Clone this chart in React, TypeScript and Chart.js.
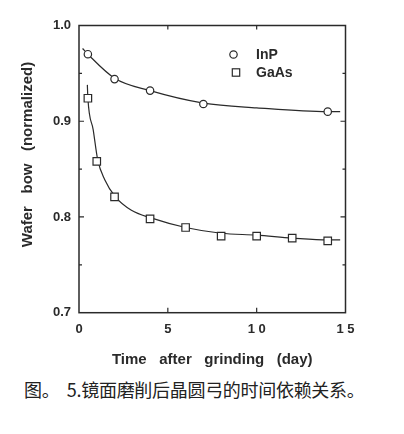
import { useEffect, useRef } from "react";
import { Chart, registerables } from "chart.js";

Chart.register(...registerables);

// measured points
const inpDays = [0.5, 2, 4, 7, 14];
const inpBow = [0.97, 0.944, 0.932, 0.918, 0.91];
const gaasDays = [0.5, 1, 2, 4, 6, 8, 10, 12, 14];
const gaasBow = [0.924, 0.858, 0.821, 0.798, 0.789, 0.78, 0.78, 0.778, 0.775];

// fitted curves
const inpFitDays = [0.2, 0.5, 2, 4, 7, 10, 14, 14.7];
const inpFitBow = [0.976, 0.97, 0.945, 0.932, 0.919, 0.914, 0.91, 0.91];
const gaasFitDays = [0.47, 0.5, 0.8, 1.05, 1.45, 2.05, 2.95, 4.05, 6, 8, 10, 12, 14, 14.7];
const gaasFitBow = [0.938, 0.924, 0.891, 0.86, 0.839, 0.821, 0.807, 0.799, 0.789, 0.783, 0.781, 0.778, 0.776, 0.776];

const xTickLabels = ["0", "5", "1 0", "1 5"];
const seriesNames = ["InP", "GaAs"];
const caption = "图。  5.镜面磨削后晶圆弓的时间依赖关系。";

const ink = "#2a2a2a";
const FONT = "'Liberation Sans', Arial, sans-serif";

const toPoints = (xs: number[], ys: number[]) => xs.map((x, i) => ({ x, y: ys[i] }));

// frame + inward ticks on all four sides
const framePlugin = {
  id: "frame",
  afterDatasetsDraw(chart: any) {
    const { ctx, chartArea: a, scales } = chart;
    ctx.save();
    ctx.strokeStyle = ink;
    ctx.lineWidth = 1.5;
    ctx.strokeRect(a.left, a.top, a.right - a.left, a.bottom - a.top);
    ctx.lineWidth = 1.2;
    ctx.beginPath();
    scales.y.ticks.forEach((t: any) => {
      if (t.value <= 0.701 || t.value >= 0.999) return;
      const py = scales.y.getPixelForValue(t.value);
      const len = t.label ? 5 : 3;
      ctx.moveTo(a.left, py);
      ctx.lineTo(a.left + len, py);
      ctx.moveTo(a.right, py);
      ctx.lineTo(a.right - len, py);
    });
    scales.x.ticks.forEach((t: any) => {
      if (t.value <= 0 || t.value >= 15) return;
      const px = scales.x.getPixelForValue(t.value);
      ctx.moveTo(px, a.bottom);
      ctx.lineTo(px, a.bottom - 5);
      ctx.moveTo(px, a.top);
      ctx.lineTo(px, a.top + 4);
    });
    ctx.stroke();
    ctx.restore();
  },
};

const legendPlugin = {
  id: "innerLegend",
  afterDraw(chart: any) {
    const { ctx } = chart;
    ctx.save();
    ctx.strokeStyle = ink;
    ctx.fillStyle = "#fff";
    ctx.lineWidth = 1.2;
    ctx.beginPath();
    ctx.arc(233.5, 54.5, 3.7, 0, Math.PI * 2);
    ctx.fill();
    ctx.stroke();
    ctx.fillRect(232.3, 68.8, 7.4, 7.4);
    ctx.strokeRect(232.3, 68.8, 7.4, 7.4);
    ctx.fillStyle = ink;
    ctx.font = `bold 14px ${FONT}`;
    ctx.textBaseline = "middle";
    ctx.fillText(seriesNames[0], 256, 55);
    ctx.fillText(seriesNames[1], 256, 73);
    ctx.restore();
  },
};

export default function App() {
  const canvasRef = useRef<HTMLCanvasElement | null>(null);
  const chartRef = useRef<Chart | null>(null);

  useEffect(() => {
    if (chartRef.current) chartRef.current.destroy();
    const ctx = canvasRef.current!.getContext("2d")!;

    chartRef.current = new Chart(ctx, {
      type: "scatter",
      data: {
        datasets: [
          {
            label: seriesNames[0],
            data: toPoints(inpDays, inpBow),
            pointStyle: "circle",
            pointRadius: 3.7,
            pointBorderWidth: 1.2,
            pointBorderColor: ink,
            pointBackgroundColor: "#fff",
            order: 0,
          },
          {
            label: seriesNames[1],
            data: toPoints(gaasDays, gaasBow),
            pointStyle: "rect",
            pointRadius: 5.3,
            pointBorderWidth: 1.2,
            pointBorderColor: ink,
            pointBackgroundColor: "#fff",
            order: 0,
          },
          {
            label: "InP fit",
            data: toPoints(inpFitDays, inpFitBow),
            showLine: true,
            pointRadius: 0,
            borderColor: ink,
            borderWidth: 1.2,
            cubicInterpolationMode: "monotone",
            order: 1,
          },
          {
            label: "GaAs fit",
            data: toPoints(gaasFitDays, gaasFitBow),
            showLine: true,
            pointRadius: 0,
            borderColor: ink,
            borderWidth: 1.2,
            cubicInterpolationMode: "monotone",
            order: 1,
          },
        ],
      },
      options: {
        animation: false,
        responsive: true,
        maintainAspectRatio: false,
        layout: { padding: { top: 25.5, right: 58.5, bottom: 0, left: 0 } },
        plugins: { legend: { display: false }, tooltip: { enabled: false } },
        scales: {
          x: {
            type: "linear",
            min: 0,
            max: 15,
            grid: { display: false, drawTicks: false },
            border: { display: false },
            ticks: {
              stepSize: 5,
              padding: 9,
              color: ink,
              font: { family: FONT, size: 13, weight: "bold" },
              callback: (_v: any, i: number) => xTickLabels[i],
            },
            title: {
              display: true,
              text: "Time   after   grinding   (day)",
              color: ink,
              font: { family: FONT, size: 15, weight: "bold" },
              padding: { top: 0, bottom: 3 },
            },
            afterFit: (s: any) => {
              s.height = 59.3;
            },
          },
          y: {
            min: 0.7,
            max: 1.0,
            grid: { display: false, drawTicks: false },
            border: { display: false },
            ticks: {
              stepSize: 0.05,
              padding: 8,
              color: ink,
              font: { family: FONT, size: 13, weight: "bold" },
              callback: (v: any) => {
                const r = Math.round(Number(v) * 100);
                return r % 10 === 0 ? (r / 100).toFixed(1) : "";
              },
            },
            title: {
              display: true,
              text: "       Wafer   bow   (normalized)",
              color: ink,
              font: { family: FONT, size: 15, weight: "bold" },
              padding: { top: 19, bottom: 0 },
            },
            afterFit: (s: any) => {
              s.width = 79;
            },
          },
        },
      },
      plugins: [framePlugin, legendPlugin],
    });

    return () => {
      if (chartRef.current) {
        chartRef.current.destroy();
        chartRef.current = null;
      }
    };
  }, []);

  return (
    <div style={{ position: "absolute", left: 0, top: 0, width: 404, height: 434, background: "#fff" }}>
      <div style={{ position: "absolute", left: 0, top: 0, width: 404, height: 372 }}>
        <canvas ref={canvasRef} />
      </div>
      <div
        style={{
          position: "absolute",
          left: 24,
          top: 379,
          fontFamily: "'Noto Sans CJK SC', sans-serif",
          fontSize: 18,
          lineHeight: "20px",
          letterSpacing: "-0.3px",
          color: "#222",
          whiteSpace: "pre",
        }}
      >
        {caption}
      </div>
    </div>
  );
}
